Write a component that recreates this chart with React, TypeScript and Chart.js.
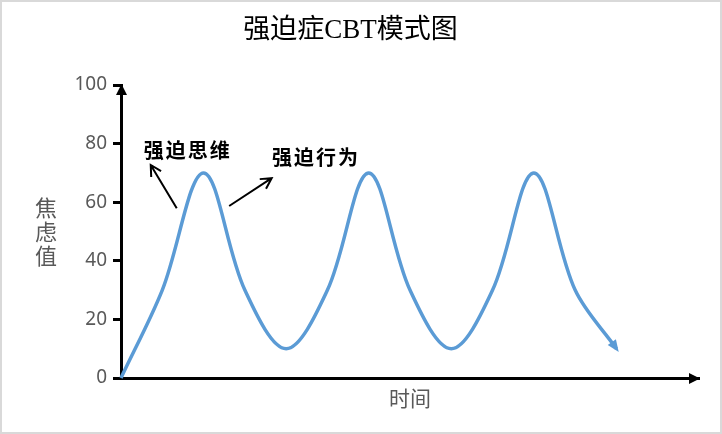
import React, { useEffect, useRef } from 'react';
import Chart from 'chart.js/auto';

// 数据
const timePoints = [0, 1, 2, 3, 4, 5, 6, 7, 8, 9, 10, 11, 12];
const anxietyValues = [0, 30, 70, 30, 10, 30, 70, 30, 10, 30, 70, 30, 10];
const yTickValues = [0, 20, 40, 60, 80, 100];
const chartTitle = '强迫症CBT模式图';
const yAxisTitle = ['焦', '虑', '值'];
const xAxisTitle = '时间';
const noteLabels = ['强迫思维', '强迫行为'];

// annotation placement, in data units
const noteAnchors = [
  { text: [1.59, 77.8], from: [1.35, 57.9], to: [0.72, 72.7] },
  { text: [4.7, 75.4], from: [2.62, 58.7], to: [3.65, 68.2] },
];

const CJK = '"Noto Sans CJK SC"';
const LINE_BLUE = '#5B9BD5';
const GREY = '#595959';

const decorations = {
  id: 'decorations',
  afterDraw(chart: any) {
    const { ctx, chartArea, scales } = chart;
    const xs = scales.x;
    const ys = scales.y;
    ctx.save();

    // title
    ctx.fillStyle = '#000';
    ctx.font = `27px "Liberation Serif", ${CJK}`;
    ctx.textAlign = 'center';
    ctx.textBaseline = 'middle';
    ctx.fillText(chartTitle, 348.5, 29);

    // y axis title, stacked
    ctx.fillStyle = GREY;
    ctx.font = `22px ${CJK}`;
    const midY = (chartArea.top + chartArea.bottom) / 2;
    yAxisTitle.forEach((ch, i) => {
      ctx.fillText(ch, chartArea.left - 75, midY + (i - 1) * 24);
    });

    // axis arrowheads
    ctx.fillStyle = '#000';
    const ax = chartArea.left + 0.5;
    ctx.beginPath();
    ctx.moveTo(ax, chartArea.top - 1);
    ctx.lineTo(ax - 5.5, chartArea.top + 10);
    ctx.lineTo(ax + 5.5, chartArea.top + 10);
    ctx.closePath();
    ctx.fill();

    const ay = chartArea.bottom + 0.5;
    ctx.beginPath();
    ctx.moveTo(chartArea.right + 1, ay);
    ctx.lineTo(chartArea.right - 10, ay - 5.5);
    ctx.lineTo(chartArea.right - 10, ay + 5.5);
    ctx.closePath();
    ctx.fill();

    // end arrow of the curve
    const meta = chart.getDatasetMeta(0);
    const last = meta.data[meta.data.length - 1];
    const prev = meta.data[meta.data.length - 2];
    let dx = last.x - (last.cp1x ?? prev.x);
    let dy = last.y - (last.cp1y ?? prev.y);
    if (Math.abs(dx) + Math.abs(dy) < 0.01) {
      dx = last.x - prev.x;
      dy = last.y - prev.y;
    }
    const len = Math.hypot(dx, dy);
    const ux = dx / len;
    const uy = dy / len;
    const tipX = last.x + ux * 4;
    const tipY = last.y + uy * 4;
    const bx = tipX - ux * 12;
    const by = tipY - uy * 12;
    ctx.fillStyle = LINE_BLUE;
    ctx.beginPath();
    ctx.moveTo(tipX, tipY);
    ctx.lineTo(bx - uy * 5, by + ux * 5);
    ctx.lineTo(bx + uy * 5, by - ux * 5);
    ctx.closePath();
    ctx.fill();

    // annotations
    ctx.fillStyle = '#000';
    ctx.strokeStyle = '#000';
    ctx.lineWidth = 2;
    ctx.font = `bold 20px ${CJK}`;
    (ctx as any).letterSpacing = '2px';
    noteLabels.forEach((label, i) => {
      const a = noteAnchors[i];
      ctx.fillText(label, xs.getPixelForValue(a.text[0]) + 1, ys.getPixelForValue(a.text[1]));
      const x1 = xs.getPixelForValue(a.from[0]);
      const y1 = ys.getPixelForValue(a.from[1]);
      const x2 = xs.getPixelForValue(a.to[0]);
      const y2 = ys.getPixelForValue(a.to[1]);
      ctx.beginPath();
      ctx.moveTo(x1, y1);
      ctx.lineTo(x2, y2);
      const ang = Math.atan2(y2 - y1, x2 - x1);
      const hl = 12;
      ctx.moveTo(x2 - hl * Math.cos(ang - 0.5), y2 - hl * Math.sin(ang - 0.5));
      ctx.lineTo(x2, y2);
      ctx.lineTo(x2 - hl * Math.cos(ang + 0.5), y2 - hl * Math.sin(ang + 0.5));
      ctx.stroke();
    });
    (ctx as any).letterSpacing = '0px';

    ctx.restore();
  },
};

export default function App() {
  const canvasRef = useRef<HTMLCanvasElement>(null);
  const chartInstance = useRef<Chart | null>(null);

  useEffect(() => {
    if (!canvasRef.current) return;
    if (chartInstance.current) chartInstance.current.destroy();

    chartInstance.current = new Chart(canvasRef.current, {
      type: 'line',
      data: {
        datasets: [
          {
            data: timePoints.map((t, i) => ({ x: t, y: anxietyValues[i] })),
            borderColor: LINE_BLUE,
            borderWidth: 3.5,
            pointRadius: 0,
            tension: 0.35,
            fill: false,
            clip: false,
          },
        ],
      },
      options: {
        animation: false,
        responsive: true,
        maintainAspectRatio: false,
        layout: { padding: { top: 83, right: 21, left: 0, bottom: 0 } },
        plugins: {
          legend: { display: false },
          tooltip: { enabled: false },
          title: { display: false },
        },
        scales: {
          x: {
            type: 'linear',
            min: 0,
            max: 14,
            ticks: { display: false },
            grid: { display: false },
            border: { display: true, color: '#000', width: 3 },
            title: {
              display: true,
              text: xAxisTitle,
              color: GREY,
              font: { family: CJK, size: 21 },
              padding: { top: 4, bottom: 21.4 },
            },
            afterFit: (s: any) => {
              s.height = 54;
            },
          },
          y: {
            min: 0,
            max: 100,
            afterBuildTicks: (s: any) => {
              s.ticks = yTickValues.map((v) => ({ value: v }));
            },
            ticks: {
              color: GREY,
              padding: 6,
              font: { family: '"Noto Sans"', size: 19 },
            },
            grid: {
              drawOnChartArea: false,
              drawTicks: true,
              tickLength: 8,
              tickWidth: 3,
              tickColor: '#000',
              color: '#000',
            },
            border: { display: true, color: '#000', width: 3 },
            afterFit: (s: any) => {
              s.width = 119;
            },
          },
        },
      },
      plugins: [decorations],
    });

    return () => {
      if (chartInstance.current) {
        chartInstance.current.destroy();
        chartInstance.current = null;
      }
    };
  }, []);

  return (
    <div
      style={{
        position: 'fixed',
        top: 0,
        left: 0,
        width: 722,
        height: 434,
        boxSizing: 'border-box',
        border: '2px solid #d9d9d9',
        background: '#fff',
      }}
    >
      <div style={{ position: 'relative', width: 718, height: 430 }}>
        <canvas ref={canvasRef}></canvas>
      </div>
    </div>
  );
}
